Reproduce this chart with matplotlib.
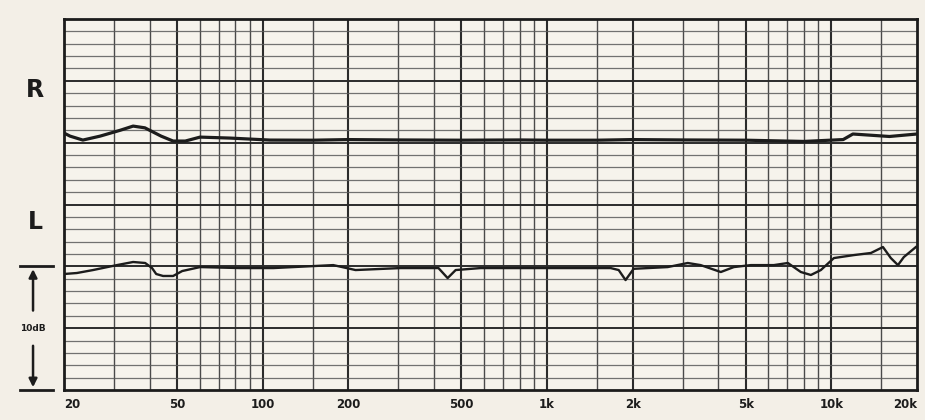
import numpy as np
import matplotlib.pyplot as plt

# response curves (Hz, dB on a 0..30 dB chart)
r_freq = [20, 21, 23.3, 26.8, 31.5, 35, 38.5, 43.9, 48.4, 53.4, 60.2, 77, 106,
          150, 200, 300, 500, 800, 1000, 1500, 2000, 3000, 5000, 8000, 11000,
          11900, 13800, 16000, 20000]
r_db = [20.78, 20.53, 20.21, 20.53, 21.0, 21.34, 21.2, 20.53, 20.13, 20.13,
        20.45, 20.37, 20.21, 20.2, 20.25, 20.22, 20.2, 20.22, 20.2, 20.2,
        20.25, 20.22, 20.2, 20.1, 20.25, 20.7, 20.6, 20.5, 20.7]

l_freq = [20, 22.2, 25.3, 30.7, 35, 38.6, 40.8, 42.2, 44.6, 48.4, 52.1, 60.2,
          83.3, 109, 177, 212, 305, 415, 447, 477, 584, 1115, 1673, 1786, 1888,
          2016, 2656, 3124, 3468, 4083, 4537, 5207, 6274, 7029, 7808, 8470,
          9180, 10206, 11996, 13774, 15180, 16180, 17140, 17980, 19820]
l_db = [9.38, 9.46, 9.70, 10.10, 10.35, 10.27, 9.86, 9.38, 9.22, 9.22, 9.62,
        9.94, 9.86, 9.86, 10.10, 9.70, 9.86, 9.86, 9.05, 9.70, 9.86, 9.86,
        9.86, 9.70, 8.89, 9.80, 9.94, 10.27, 10.10, 9.54, 9.94, 10.10, 10.10,
        10.27, 9.54, 9.30, 9.70, 10.67, 10.91, 11.08, 11.56, 10.67, 10.10,
        10.75, 11.56]

tick_freq = [20, 50, 100, 200, 500, 1000, 2000, 5000, 10000, 20000]
tick_text = ['20', '50', '100', '200', '500', '1k', '2k', '5k', '10k', '20k']

grid_freq = [30, 40, 50, 60, 70, 80, 90, 100, 150, 200, 300, 400, 500, 600,
             700, 800, 900, 1000, 1500, 2000, 3000, 4000, 5000, 6000, 7000,
             8000, 9000, 10000, 15000]
major_freq = [50, 100, 200, 500, 1000, 2000, 5000, 10000]

bg = '#f3efe7'
ink = '#1c1c1c'

fig = plt.figure(figsize=(9.25, 4.2), dpi=100, facecolor=bg)
ax = fig.add_axes([64/925, 30/420, 853/925, 371/420])
ax.set_facecolor('#f6f3ec')
ax.set_xscale('log')
ax.set_xlim(20, 20000)
ax.set_ylim(0, 30)

for f in grid_freq:
    if f in major_freq:
        ax.axvline(f, color='#2b2b2b', lw=1.5, zorder=1)
    else:
        ax.axvline(f, color='#4a4a4a', lw=1.0, zorder=1)
for d in range(1, 30):
    if d % 5 == 0:
        ax.axhline(d, color='#2b2b2b', lw=1.4, zorder=1)
    else:
        ax.axhline(d, color='#5a5a5a', lw=0.9, alpha=0.85, zorder=1)

ax.plot(r_freq, r_db, color=ink, lw=2.3, zorder=3, solid_joinstyle='round')
ax.plot(l_freq, l_db, color=ink, lw=1.7, zorder=3, solid_joinstyle='round')

for s in ax.spines.values():
    s.set_linewidth(2)
    s.set_color(ink)

ax.set_yticks([])
ax.minorticks_off()
ax.set_xticks(tick_freq)
ax.set_xticklabels(tick_text, fontsize=8.5, fontweight='bold', color=ink)
ax.tick_params(axis='x', length=0, pad=6)
labels = ax.get_xticklabels()
labels[0].set_horizontalalignment('left')
labels[-1].set_horizontalalignment('right')

fig.text(35/925, 1 - 90/420, 'R', fontsize=17, fontweight='bold', color=ink,
         ha='center', va='center')
fig.text(35/925, 1 - 222/420, 'L', fontsize=17, fontweight='bold', color=ink,
         ha='center', va='center')

# 10 dB scale bracket
tr = ax.get_yaxis_transform()
xl = -0.0363
for d in [0, 10]:
    ax.plot([-0.052, -0.013], [d, d], color=ink, lw=2, transform=tr, clip_on=False)
ax.annotate('', xy=(xl, 10), xytext=(xl, 6.2), xycoords=tr, textcoords=tr,
            arrowprops=dict(arrowstyle='-|>', color=ink, lw=1.8, mutation_scale=12))
ax.annotate('', xy=(xl, 0), xytext=(xl, 3.8), xycoords=tr, textcoords=tr,
            arrowprops=dict(arrowstyle='-|>', color=ink, lw=1.8, mutation_scale=12))
ax.text(xl, 5, '10dB', transform=tr, fontsize=6.5, fontweight='bold',
        color=ink, ha='center', va='center')

fig.savefig('out.png', dpi=100, facecolor=bg)
